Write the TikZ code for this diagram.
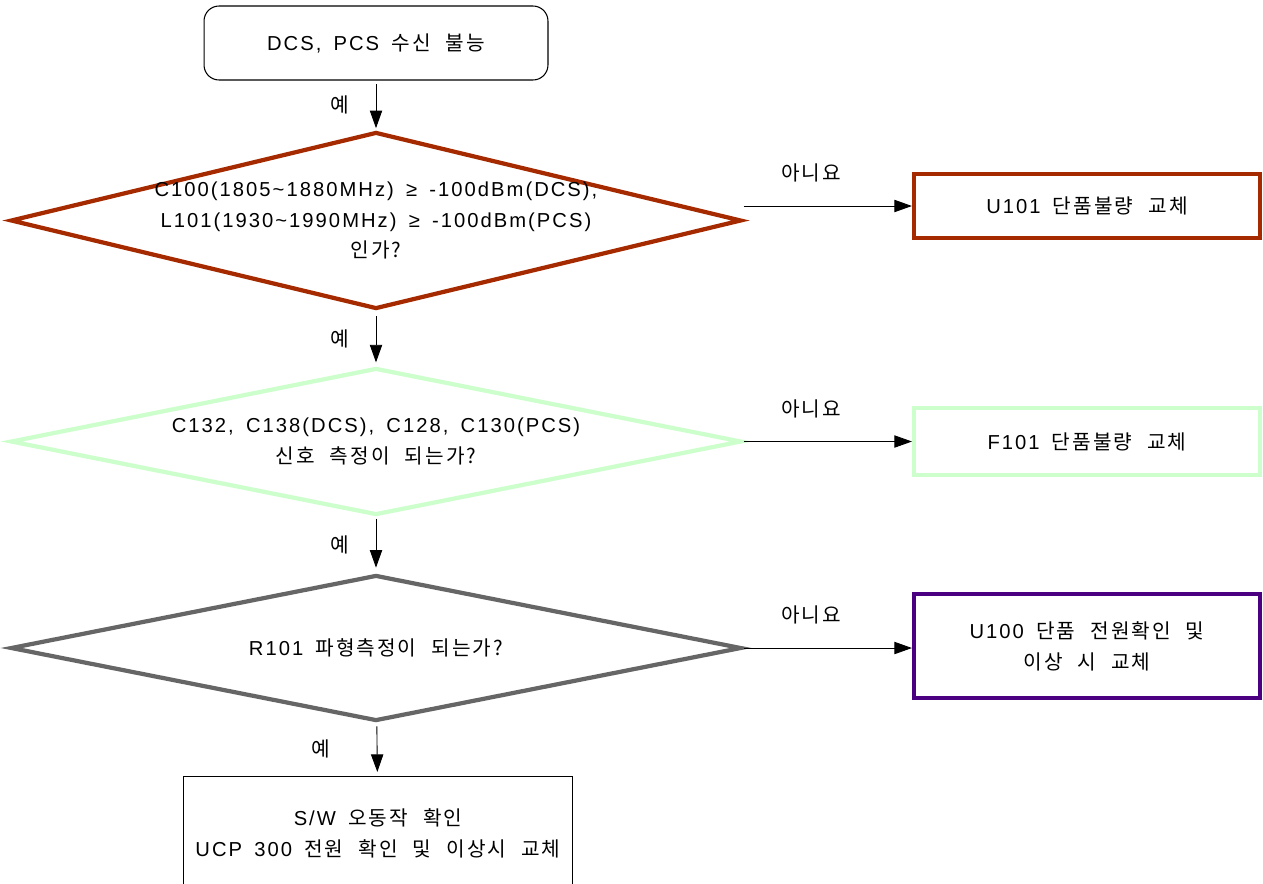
\documentclass[tikz,border=0pt]{standalone}
\usepackage{fontspec}
\setmainfont{Liberation Sans}[LetterSpace=10,WordSpace=1.6]
\newfontfamily\kr{Noto Sans CJK KR}[LetterSpace=10,WordSpace=2.3]
\usetikzlibrary{shapes.geometric,arrows.meta}
\definecolor{rustred}{HTML}{A52A00}
\definecolor{palegreen}{HTML}{CCFFCC}
\definecolor{midgray}{HTML}{666666}
\definecolor{indigo}{HTML}{4B0082}

\begin{document}
\begin{tikzpicture}[x=0.02cm,y=-0.02cm,
  every node/.style={font=\fontsize{11.5}{17.5}\selectfont},
  flow/.style={-{Triangle[length=10pt,width=7pt]},line width=0.5pt},
  ask/.style={diamond,draw,line width=2.4pt,inner sep=0pt,minimum width=14.62cm},
  fix/.style={draw,line width=2.4pt,minimum width=6.92cm,align=center},
  yeslabel/.style={left=12pt},
  nolabel/.style={pos=0.4,above=10pt}]
\useasboundingbox (0,0) rectangle (1263,883);
\clip (0,0) rectangle (1263,883);

% start
\node[draw,rounded corners=0.3cm,line width=0.6pt,minimum width=6.88cm,minimum height=1.48cm] (start) at (376,43) {DCS, PCS {\kr 수신 불능}};

% questions
\node[ask,draw=rustred,minimum height=3.54cm] (q1) at (376,220.5) {};
\node[align=center] (q1txt) at (q1) {C100(1805\textasciitilde1880MHz) ≥ -100dBm(DCS),\\L101(1930\textasciitilde1990MHz) ≥ -100dBm(PCS)\\{\kr 인가?}};
\node[ask,draw=palegreen,minimum height=2.94cm] (q2) at (376,441.5) {};
\node[align=center] (q2txt) at (q2) {C132, C138(DCS), C128, C130(PCS)\\{\kr 신호 측정이 되는가?}};
\node[ask,draw=midgray,minimum height=2.92cm] (q3) at (376,648) {};
\node (q3txt) at (q3) {R101 {\kr 파형측정이 되는가?}};

% results
\node[fix,draw=rustred,minimum height=1.28cm] (r1) at (1087,206) {U101 {\kr 단품불량 교체}};
\node[fix,draw=palegreen,minimum height=1.34cm] (r2) at (1087,441.5) {F101 {\kr 단품불량 교체}};
\node[fix,draw=indigo,minimum height=2.08cm] (r3) at (1087,646) {U100 {\kr 단품 전원확인 및}\\{\kr 이상 시 교체}};
\node[draw,line width=0.6pt,minimum width=7.8cm,minimum height=2.28cm,align=center] (done) at (378,833) {S/W {\kr 오동작 확인}\\UCP 300 {\kr 전원 확인 및 이상시 교체}};

% yes
\draw[flow,shorten <=2pt,shorten >=1pt] (start) -- node[yeslabel] (y1) {\kr 예} (q1);
\draw[flow,shorten <=3pt,shorten >=2pt] (q1) -- node[yeslabel] (y2) {\kr 예} (q2);
\draw[flow,shorten <=1pt,shorten >=3pt] (q2) -- node[yeslabel] (y3) {\kr 예} (q3);
\draw[flow,shorten <=2pt,shorten >=2pt] (q3) -- node[left=23pt] (y4) {\kr 예} (done);

% no
\draw[flow] (q1.east |- r1) -- node[nolabel] (n1) {\kr 아니요} (r1);
\draw[flow] (q2.east) -- node[nolabel] (n2) {\kr 아니요} (r2);
\draw[flow] (q3.east) -- node[nolabel] (n3) {\kr 아니요} (q3.east -| r3.west);
\end{tikzpicture}
\end{document}
